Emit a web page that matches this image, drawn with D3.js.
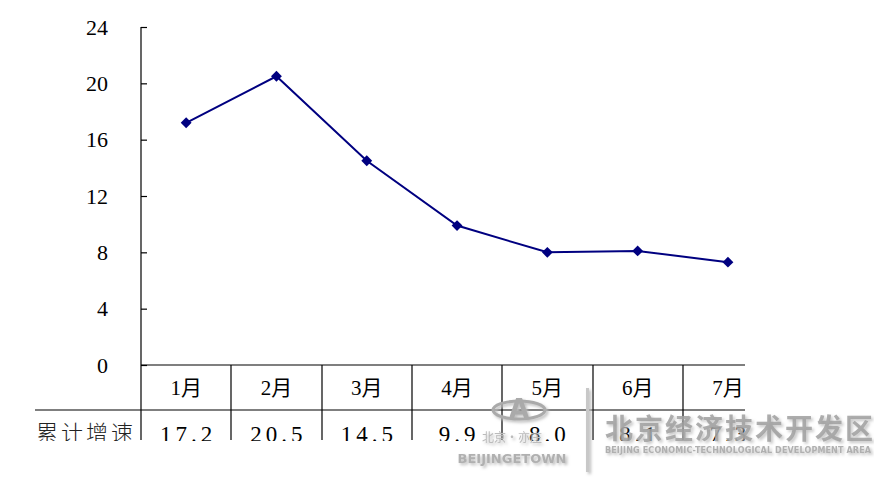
<!DOCTYPE html>
<html>
<head>
<meta charset="utf-8">
<script src="https://cdn.jsdelivr.net/npm/d3@7"></script>
<style>
  body { margin: 0; background: #fff; }
  svg { display: block; }
</style>
</head>
<body>
<svg id="svg" width="874" height="479"></svg>
<script>
// data
var months = ["1月", "2月", "3月", "4月", "5月", "6月", "7月"];
var growth = [17.2, 20.5, 14.5, 9.9, 8.0, 8.1, 7.3];
var yTicks = [0, 4, 8, 12, 16, 20, 24];
var rowLabel = "累计增速";

var svg = d3.select("#svg");
var serif = "Liberation Serif, DejaVu Serif, Noto Sans CJK SC, serif";

var plotLeft = 141, plotTop = 27, plotBottom = 365, clipRight = 745;
var bandW = 90.3;

var x = d3.scaleBand().domain(months).range([plotLeft, plotLeft + bandW * months.length]).paddingInner(0).paddingOuter(0);
var y = d3.scaleLinear().domain([0, 24]).range([plotBottom, plotTop]);

var defs = svg.append("defs");
defs.append("clipPath").attr("id", "clip")
  .append("rect").attr("x", 0).attr("y", 0).attr("width", clipRight).attr("height", 479);

// y axis
var yAxis = d3.axisRight(y).tickValues(yTicks).tickSize(6).tickFormat("");
var ya = svg.append("g").attr("transform", "translate(" + plotLeft + ",0)").call(yAxis);
ya.select(".domain").remove();
ya.selectAll(".tick line").attr("stroke", "#000").attr("stroke-width", 1.2);
svg.append("line").attr("x1", plotLeft).attr("x2", plotLeft).attr("y1", plotTop).attr("y2", 440)
  .attr("stroke", "#000").attr("stroke-width", 1.2);

svg.append("g").selectAll("text").data(yTicks).enter().append("text")
  .attr("x", 108).attr("y", function (d) { return y(d); })
  .attr("dy", "0.35em")
  .attr("text-anchor", "end")
  .style("font-family", serif).style("font-size", "22px").attr("fill", "#000")
  .text(function (d) { return d; });

// table
var table = svg.append("g").attr("clip-path", "url(#clip)");
table.append("line").attr("x1", plotLeft).attr("x2", 800).attr("y1", plotBottom).attr("y2", plotBottom)
  .attr("stroke", "#000").attr("stroke-width", 1.2);
table.append("line").attr("x1", 35).attr("x2", 800).attr("y1", 410).attr("y2", 410)
  .attr("stroke", "#000").attr("stroke-width", 1.2);
table.selectAll(".vline").data(months.slice(1)).enter().append("line")
  .attr("class", "vline")
  .attr("x1", function (d) { return Math.round(x(d)); })
  .attr("x2", function (d) { return Math.round(x(d)); })
  .attr("y1", plotBottom).attr("y2", 440)
  .attr("stroke", "#000").attr("stroke-width", 1.2);

table.selectAll(".mlab").data(months).enter().append("text")
  .attr("class", "mlab")
  .attr("x", function (d) { return x(d) + x.bandwidth() / 2; })
  .attr("y", 395)
  .attr("text-anchor", "middle")
  .style("font-family", serif).style("font-size", "21px")
  .text(function (d) { return d; });

table.selectAll(".vlab").data(growth).enter().append("text")
  .attr("class", "vlab")
  .attr("x", function (d, i) { return x(months[i]) + x.bandwidth() / 2 + 2; })
  .attr("y", 442)
  .attr("text-anchor", "middle")
  .style("font-family", serif).style("font-size", "23px")
  .style("letter-spacing", "4px")
  .text(function (d) { return d.toFixed(1); });

svg.append("text").attr("x", 36).attr("y", 441)
  .style("font-family", "Noto Sans CJK SC, serif").style("font-size", "22px").style("font-weight", "300")
  .style("letter-spacing", "3px")
  .attr("fill", "#222")
  .text(rowLabel);

// white-out below the table
svg.append("rect").attr("x", 0).attr("y", 441).attr("width", 874).attr("height", 40).attr("fill", "#fff");

// line
var line = d3.line()
  .x(function (d, i) { return x(months[i]) + x.bandwidth() / 2; })
  .y(function (d) { return y(d); });
svg.append("path").datum(growth).attr("d", line)
  .attr("fill", "none").attr("stroke", "#000080").attr("stroke-width", 2);
svg.append("g").selectAll("path").data(growth).enter().append("path")
  .attr("d", d3.symbol().type(d3.symbolDiamond2).size(75))
  .attr("transform", function (d, i) {
    return "translate(" + (x(months[i]) + x.bandwidth() / 2) + "," + y(d) + ")";
  })
  .attr("fill", "#000080");

// watermark
var shadow = defs.append("filter").attr("id", "sh");
shadow.append("feDropShadow").attr("dx", 2).attr("dy", 2).attr("stdDeviation", 1.5).attr("flood-color", "#bbb");
var wm = svg.append("g").attr("fill", "#9a9a9a").attr("filter", "url(#sh)");
wm.append("ellipse").attr("cx", 519).attr("cy", 410).attr("rx", 26).attr("ry", 9)
  .attr("fill", "none").attr("stroke", "#aaa").attr("stroke-width", 3);
wm.append("text").attr("x", 519).attr("y", 418).attr("text-anchor", "middle")
  .style("font-family", "DejaVu Sans, sans-serif").style("font-weight", "bold").style("font-size", "26px")
  .attr("fill", "#aaa").text("A");
wm.append("text").attr("x", 512).attr("y", 442).attr("text-anchor", "middle")
  .style("font-family", "Noto Sans CJK SC, sans-serif").style("font-size", "12px").attr("fill", "#bbb")
  .text("北京·亦庄");
wm.append("text").attr("x", 512).attr("y", 463).attr("text-anchor", "middle")
  .style("font-family", "DejaVu Sans, sans-serif").style("font-weight", "bold").style("font-size", "13px")
  .attr("fill", "#b0b0b0").text("BEIJINGETOWN");
wm.append("rect").attr("x", 586).attr("y", 388).attr("width", 3).attr("height", 84).attr("fill", "#c8c8c8");
wm.append("text").attr("x", 605).attr("y", 439)
  .style("font-family", "Noto Sans CJK SC, sans-serif").style("font-weight", "bold").style("font-size", "28px")
  .style("letter-spacing", "2px")
  .attr("fill", "#a0a0a0").attr("fill-opacity", 0.85).text("北京经济技术开发区");
wm.append("text").attr("x", 605).attr("y", 453)
  .attr("textLength", 266)
  .style("font-family", "DejaVu Sans, sans-serif").style("font-weight", "bold").style("font-size", "8px")
  .attr("fill", "#b0b0b0").text("BEIJING ECONOMIC-TECHNOLOGICAL DEVELOPMENT AREA");
</script>
</body>
</html>
